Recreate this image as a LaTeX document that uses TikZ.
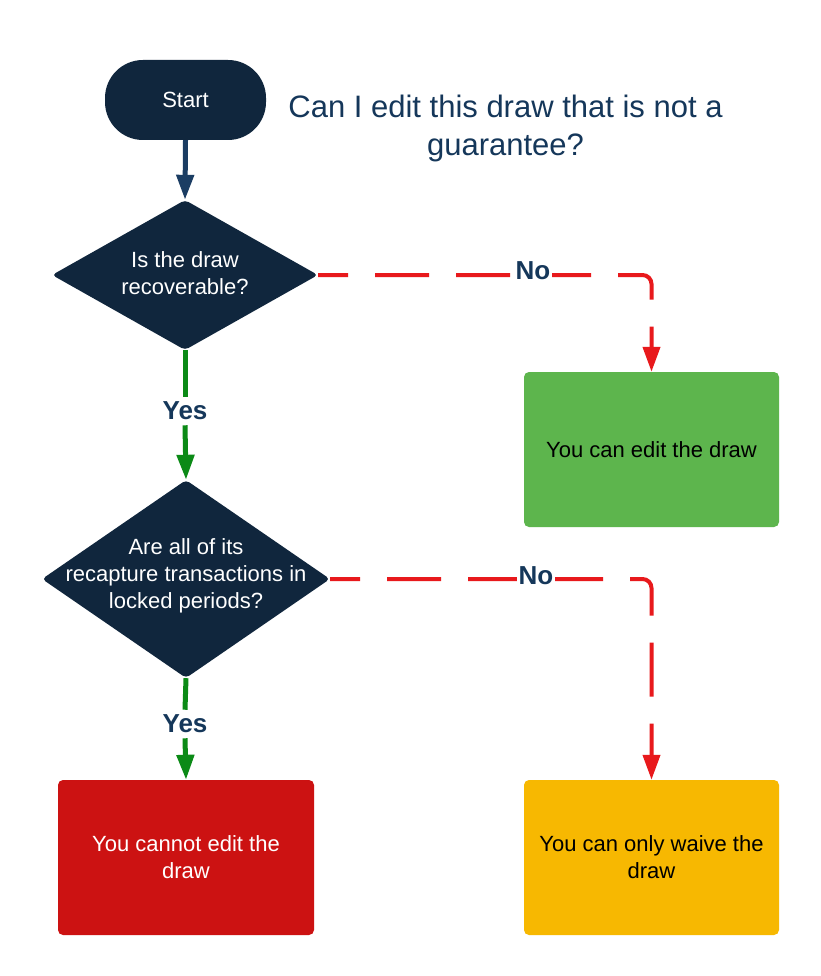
\documentclass[tikz,border=0pt]{standalone}
\usepackage{fontspec}
\setmainfont{Liberation Sans}
\usetikzlibrary{shapes.geometric,arrows.meta}
\definecolor{navy}{HTML}{10263D}
\definecolor{navyline}{HTML}{1B3D63}
\definecolor{lblblue}{HTML}{15375A}
\definecolor{dashred}{HTML}{E8191C}
\definecolor{yesgreen}{HTML}{0B8A16}
\definecolor{boxgreen}{HTML}{5DB54D}
\definecolor{boxred}{HTML}{CC1212}
\definecolor{boxorange}{HTML}{F7B801}
\tikzset{
  txt/.style={font=\fontsize{22}{27}\selectfont, align=center},
  startbox/.style={draw=none, fill=navy, rounded corners=38pt, minimum width=161pt, minimum height=80pt, text=white, txt},
  decision/.style={shape=diamond, draw=none, fill=navy, rounded corners=4pt, inner sep=0pt},
  dlabel/.style={text=white, txt},
  result/.style={draw=none, rounded corners=5pt, minimum width=255pt, minimum height=155pt, txt},
  lbl/.style={font=\fontsize{26}{30}\selectfont\bfseries, text=lblblue, inner sep=5pt},
  navyarrow/.style={draw=navyline, line width=5pt, -{Triangle[length=25pt,width=17pt]}},
  greenline/.style={draw=yesgreen, line width=5pt},
  greenarrow/.style={greenline, -{Triangle[length=25pt,width=17pt]}},
  redarrow/.style={draw=dashred, line width=4pt, dash pattern=on 54pt off 27pt, dash phase=24pt, rounded corners=9pt, -{Triangle[length=25pt,width=17pt]}},
}
\begin{document}
\begin{tikzpicture}[x=1pt,y=-1pt]
\useasboundingbox[fill=white] (0,0) rectangle (820,976);
\node[startbox] (start) at (185.5,100) {Start};
\node[font=\fontsize{31}{38}\selectfont, text=lblblue, align=center] (title) at (505.5,128) {Can I edit this draw that is not a\\guarantee?};
\node[decision, minimum width=266pt, minimum height=150pt] (d1) at (185,275) {};
\node[dlabel] (d1t) at (185,273) {Is the draw\\recoverable?};
\node[decision, minimum width=288pt, minimum height=198pt] (d2) at (186,579) {};
\node[dlabel] (d2t) at (186,576) {Are all of its\\recapture transactions in\\locked periods?};
\node[result, fill=boxgreen] (g) at (651.5,449.5) {You can edit the draw};
\node[result, fill=boxred, text=white, minimum width=256pt] (r) at (186,857.5) {You cannot edit the\\draw};
\node[result, fill=boxorange] (o) at (651.5,857.5) {You can only waive the\\draw};
\draw[navyarrow] (start.south) -- (d1.north);
\node[lbl] (yes1) at (185,411) {Yes};
\draw[greenline] (d1.south) -- (yes1.north);
\draw[greenarrow] (yes1.south) -- (d2.north);
\node[lbl] (yes2) at (185,724) {Yes};
\draw[greenline] (d2.south) -- (yes2.north);
\draw[greenarrow] (yes2.south) -- (r.north);
\draw[redarrow] (d1.east) -| (g.north);
\node[lbl, fill=white, inner sep=2pt] (no1) at (533,271) {No};
\draw[redarrow] (d2.east) -| (o.north);
\node[lbl, fill=white, inner sep=2pt] (no2) at (536,576) {No};
\end{tikzpicture}
\end{document}
